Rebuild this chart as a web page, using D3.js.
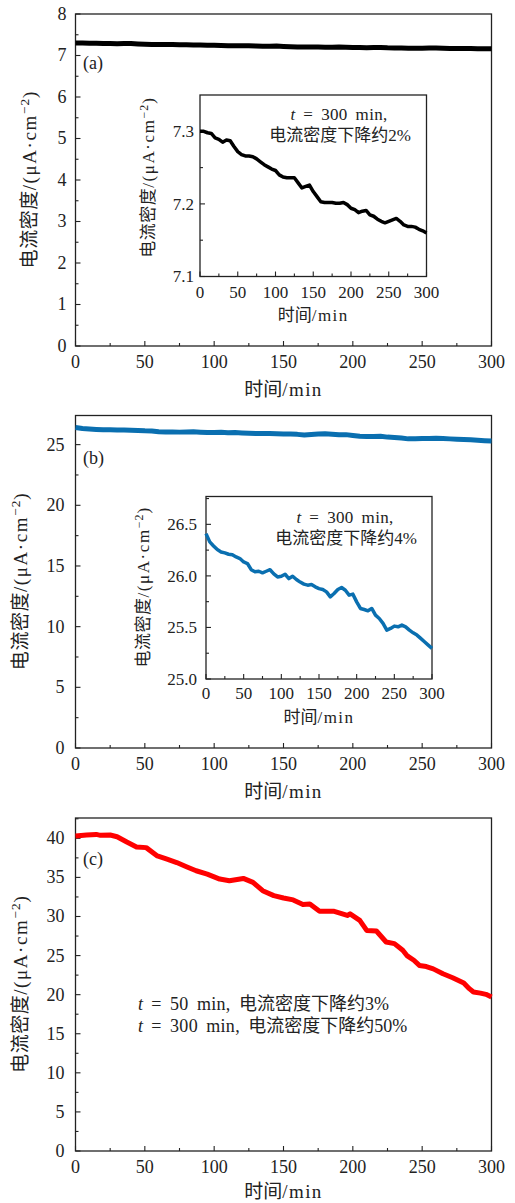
<!DOCTYPE html>
<html>
<head>
<meta charset="utf-8">
<script src="https://cdn.jsdelivr.net/npm/d3@7"></script>
<style>
  html, body { margin: 0; padding: 0; background: #fff; }
  svg { display: block; }
  text { font-family: "Liberation Serif", "Noto Sans CJK SC", serif; fill: #222; white-space: pre; }
</style>
</head>
<body>
<svg id="chart" width="515" height="1203"></svg>
<script>
// Time axis ticks (min)
const xTicks = [0, 50, 100, 150, 200, 250, 300];
const xMinorTicks = [25, 75, 125, 175, 225, 275];

// (a) current density, sampled every 5 min
const timeA = [0, 5, 10, 15, 20, 25, 30, 35, 40, 45, 50, 55, 60, 65, 70, 75, 80, 85, 90, 95,
  100, 105, 110, 115, 120, 125, 130, 135, 140, 145, 150, 155, 160, 165, 170, 175, 180, 185, 190, 195,
  200, 205, 210, 215, 220, 225, 230, 235, 240, 245, 250, 255, 260, 265, 270, 275, 280, 285, 290, 295, 300];
const densityA = [7.300, 7.300, 7.298, 7.297, 7.291, 7.289, 7.285, 7.288, 7.287, 7.279,
  7.272, 7.268, 7.266, 7.266, 7.265, 7.262, 7.258, 7.254, 7.251, 7.248,
  7.246, 7.240, 7.237, 7.236, 7.236, 7.236, 7.229, 7.222, 7.224, 7.226,
  7.217, 7.210, 7.203, 7.202, 7.202, 7.202, 7.201, 7.201, 7.202, 7.199,
  7.194, 7.192, 7.188, 7.190, 7.191, 7.185, 7.183, 7.179, 7.176, 7.174,
  7.176, 7.178, 7.180, 7.176, 7.171, 7.169, 7.169, 7.168, 7.165, 7.163, 7.160];

// (b) current density, sampled every 5 min
const timeB = timeA.slice();
const densityB = [26.41, 26.33, 26.29, 26.255, 26.232, 26.223, 26.21, 26.205, 26.184, 26.168,
  26.135, 26.12, 26.06, 26.04, 26.045, 26.03, 26.045, 26.06, 26.02, 25.99,
  25.997, 26.016, 25.974, 25.997, 25.965, 25.94, 25.92, 25.91, 25.916, 25.894,
  25.877, 25.868, 25.845, 25.797, 25.829, 25.868, 25.887, 25.861, 25.813, 25.823,
  25.748, 25.684, 25.674, 25.661, 25.684, 25.619, 25.587, 25.539, 25.474, 25.49,
  25.513, 25.506, 25.523, 25.506, 25.474, 25.448, 25.426, 25.394, 25.361, 25.329, 25.297];

// (c) current density
const timeC = [0, 8, 15, 18, 25, 30, 37, 44, 51, 59, 66, 73, 80, 87, 95, 104, 111, 121, 128, 135,
  143, 150, 157, 164, 169, 176, 186, 196, 198, 205, 210, 217, 224, 230, 236, 239, 244, 248, 253, 258,
  265, 272, 280, 284, 287, 292, 296, 300];
const densityC = [40.3, 40.42, 40.5, 40.38, 40.42, 40.2, 39.53, 38.9, 38.81, 37.75,
  37.33, 36.9, 36.36, 35.85, 35.42, 34.79, 34.58, 34.87, 34.36, 33.3,
  32.67, 32.37, 32.12, 31.53, 31.6, 30.68, 30.68, 30.13, 30.34, 29.5,
  28.22, 28.14, 26.74, 26.53, 25.68, 25.0, 24.4, 23.74, 23.6, 23.3,
  22.68, 22.17, 21.49, 20.77, 20.34, 20.2, 20.04, 19.7];

// Density axis ticks
const yTicksA = [0, 1, 2, 3, 4, 5, 6, 7, 8];
const yTicksB = [0, 5, 10, 15, 20, 25];
const yTicksC = [0, 5, 10, 15, 20, 25, 30, 35, 40];
const insetTicksA = [7.1, 7.2, 7.3];
const insetTicksB = [25.0, 25.5, 26.0, 26.5];

const xLabelCJK = "时间";
const xLabelUnit = "/min";
const yLabelCJK = "电流密度";
const yLabelUnit = "/(μA·cm";
const noteA = ["300 min,", "电流密度下降约2%"];
const noteB = ["300 min,", "电流密度下降约4%"];
const noteC = [["50 min, ", "电流密度下降约3%"], ["300 min, ", "电流密度下降约50%"]];

const svg = d3.select("#chart");

function minorBetween(ticks) {
  const out = [];
  for (let i = 0; i < ticks.length - 1; i++) out.push((ticks[i] + ticks[i + 1]) / 2);
  const step = ticks[1] - ticks[0];
  out.push(ticks[ticks.length - 1] + step / 2);
  return out;
}

function yLabel(g, x, y, size) {
  const t = g.append("text")
    .attr("transform", `translate(${x},${y}) rotate(-90)`)
    .attr("text-anchor", "middle")
    .attr("font-size", size);
  t.append("tspan").attr("letter-spacing", 0.5).text(yLabelCJK);
  t.append("tspan").attr("letter-spacing", 1.6).text(yLabelUnit);
  t.append("tspan").attr("dy", -size * 0.38).attr("font-size", size * 0.7)
    .attr("letter-spacing", 1).text("−2");
  t.append("tspan").attr("dy", size * 0.38).text(")");
}

function xLabel(g, x, y, size) {
  const t = g.append("text").attr("x", x).attr("y", y)
    .attr("text-anchor", "middle").attr("font-size", size);
  t.append("tspan").text(xLabelCJK);
  t.append("tspan").attr("letter-spacing", 1.4).text(xLabelUnit);
}

// One framed plot: box, inward ticks on left/bottom, tick labels, curve
function plot(o) {
  const g = svg.append("g");
  const x = d3.scaleLinear().domain([0, 300]).range([o.left, o.right]);
  const y = d3.scaleLinear().domain(o.yDomain).range([o.bottom, o.top]);

  g.append("rect")
    .attr("x", o.left).attr("y", o.top)
    .attr("width", o.right - o.left).attr("height", o.bottom - o.top)
    .attr("fill", "#fff").attr("stroke", "#222").attr("stroke-width", 1.3);

  const majorLen = 5, minorLen = 3;
  const yMinor = minorBetween(o.yTicks).filter(v => v < o.yDomain[1]);

  const axes = g.append("g").attr("stroke", "#222").attr("stroke-width", 1.1);
  xTicks.forEach(v => axes.append("line")
    .attr("x1", x(v)).attr("x2", x(v)).attr("y1", o.bottom).attr("y2", o.bottom - majorLen));
  xMinorTicks.forEach(v => axes.append("line")
    .attr("x1", x(v)).attr("x2", x(v)).attr("y1", o.bottom).attr("y2", o.bottom - minorLen));
  o.yTicks.forEach(v => axes.append("line")
    .attr("x1", o.left).attr("x2", o.left + majorLen).attr("y1", y(v)).attr("y2", y(v)));
  yMinor.forEach(v => axes.append("line")
    .attr("x1", o.left).attr("x2", o.left + minorLen).attr("y1", y(v)).attr("y2", y(v)));

  xTicks.forEach(v => g.append("text")
    .attr("x", x(v)).attr("y", o.bottom + o.xLabelOff)
    .attr("text-anchor", "middle").attr("font-size", o.tickSize).text(v));
  o.yTicks.forEach(v => g.append("text")
    .attr("x", o.left - o.yLabelGap).attr("y", y(v) + o.tickSize * 0.33)
    .attr("text-anchor", "end").attr("font-size", o.tickSize).text(o.fmt(v)));

  const line = d3.line().x(d => x(d[0])).y(d => y(d[1]));
  const pts = o.time.map((t, i) => [t, o.values[i]]);
  g.append("path").datum(pts)
    .attr("d", line)
    .attr("fill", "none")
    .attr("stroke", o.color)
    .attr("stroke-width", o.width)
    .attr("stroke-linejoin", "round")
    .attr("stroke-linecap", "butt");

  xLabel(g, (o.left + o.right) / 2, o.bottom + o.titleOff, o.axisSize);
  yLabel(g, o.yTitleX, o.yTitleY || (o.top + o.bottom) / 2, o.axisSize);
  return { g, x, y };
}

// "t = ..." note; an optional second part is drawn in the CJK font
function noteLine(g, x, y, parts, anchor, size) {
  const t = g.append("text").attr("x", x).attr("y", y)
    .attr("text-anchor", anchor).attr("font-size", size);
  t.append("tspan").attr("font-style", "italic").text("t");
  t.append("tspan").attr("word-spacing", 3.5).attr("letter-spacing", 0.3).text(" = " + parts[0]);
  if (parts[1]) t.append("tspan").text(parts[1]);
}

const fmtInt = d3.format("d");

// (a)
const pa = plot({ left: 75.5, right: 491.5, top: 14, bottom: 346, yDomain: [0, 8],
  yTicks: yTicksA, fmt: fmtInt, time: timeA, values: densityA, color: "#000", width: 5,
  tickSize: 18, axisSize: 19, xLabelOff: 22, titleOff: 50, yLabelGap: 9, yTitleX: 36 });
pa.g.append("text").attr("x", 83).attr("y", 69).attr("font-size", 18).text("(a)");

const ia = plot({ left: 200, right: 426.5, top: 95, bottom: 276.5, yDomain: [7.1, 7.35],
  yTicks: insetTicksA, fmt: d3.format(".1f"), time: timeA, values: densityA, color: "#000", width: 3.5,
  tickSize: 17, axisSize: 17, xLabelOff: 21, titleOff: 44, yLabelGap: 6, yTitleX: 154, yTitleY: 178 });
noteLine(ia.g, 339, 120, [noteA[0]], "middle", 17);
ia.g.append("text").attr("x", 340).attr("y", 141).attr("text-anchor", "middle")
  .attr("font-size", 17).text(noteA[1]);

// (b)
const pb = plot({ left: 75.5, right: 491.5, top: 415.5, bottom: 748, yDomain: [0, 27.4],
  yTicks: yTicksB, fmt: fmtInt, time: timeB, values: densityB, color: "#0a6fb0", width: 5,
  tickSize: 18, axisSize: 19, xLabelOff: 22, titleOff: 50, yLabelGap: 11, yTitleX: 27 });
pb.g.append("text").attr("x", 83).attr("y", 464).attr("font-size", 18).text("(b)");

const ib = plot({ left: 206, right: 432, top: 496.5, bottom: 679, yDomain: [25, 26.77],
  yTicks: insetTicksB, fmt: d3.format(".1f"), time: timeB, values: densityB, color: "#0a6fb0", width: 3.5,
  tickSize: 17, axisSize: 17, xLabelOff: 20, titleOff: 44, yLabelGap: 9, yTitleX: 149 });
noteLine(ib.g, 345, 523, [noteB[0]], "middle", 17);
ib.g.append("text").attr("x", 346).attr("y", 544).attr("text-anchor", "middle")
  .attr("font-size", 17).text(noteB[1]);

// (c)
const pc = plot({ left: 75.5, right: 491.5, top: 818, bottom: 1151, yDomain: [0, 42.6],
  yTicks: yTicksC, fmt: fmtInt, time: timeC, values: densityC, color: "#ff0000", width: 5,
  tickSize: 18, axisSize: 19, xLabelOff: 22, titleOff: 47, yLabelGap: 11, yTitleX: 27 });
pc.g.append("text").attr("x", 83).attr("y", 865).attr("font-size", 18).text("(c)");
noteC.forEach((parts, i) => noteLine(pc.g, 138, 1010 + i * 22, parts, "start", 18));
</script>
</body>
</html>
